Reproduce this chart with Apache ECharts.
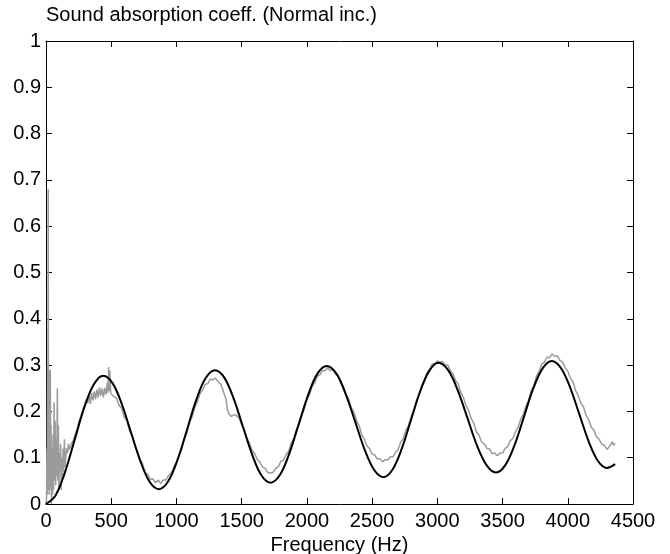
<!DOCTYPE html>
<html>
<head>
<meta charset="utf-8">
<script src="https://cdn.jsdelivr.net/npm/echarts@6/dist/echarts.min.js"></script>
<style>html,body{margin:0;padding:0;background:#fff;}#c{width:670px;height:554px;}</style>
</head>
<body>
<div id="c"></div>
<script>
// ---- data ----
const titleText = 'Sound absorption coeff. (Normal inc.)';
const xName = 'Frequency (Hz)';
const xTicks = [0, 500, 1000, 1500, 2000, 2500, 3000, 3500, 4000, 4500];
const yTicks = [0, 0.1, 0.2, 0.3, 0.4, 0.5, 0.6, 0.7, 0.8, 0.9, 1];

// theoretical curve (black)
const modelFreq = [0,73,146,220,293,366,439,510,581,652,723,794,865,937,1009,1081,1152,1224,1296,1367,1438,1509,1580,1651,1722,1794,1865,1937,2009,2080,2152,2225,2297,2370,2442,2515,2587,2657,2728,2798,2868,2939,3009,3083,3156,3230,3303,3377,3450,3521,3593,3664,3735,3807,3878,3948,4019,4089,4159,4230,4300,4363];
const modelAbs = [0,0.0186,0.069,0.139,0.208,0.258,0.277,0.261,0.216,0.1545,0.093,0.048,0.032,0.049,0.096,0.1605,0.225,0.272,0.289,0.273,0.228,0.1675,0.107,0.062,0.046,0.063,0.109,0.172,0.235,0.281,0.298,0.282,0.238,0.178,0.118,0.074,0.058,0.0745,0.120,0.1815,0.243,0.288,0.305,0.289,0.246,0.1865,0.127,0.084,0.068,0.084,0.128,0.1885,0.249,0.293,0.309,0.2935,0.251,0.1935,0.136,0.0935,0.078,0.086];

// measured curve (gray)
const measFreq = [0,4,7,9,12,14,17,19,22,24,27,30,33,36,39,42,46,50,54,58,62,66,70,74,78,82,87,91,95,99,103,108,112,117,121,126,131,136,141,146,151,158,165,172,
180,190,200,210,220,230,240,250,260,270,280,290,300,310,320,330,340,350,360,370,380,390,400,410,420,430,440,450,460,470,476,480,484,490,496,505,515,
540,560,580,600,620,640,660,680,700,720,740,760,780,800,820,840,860,880,900,920,940,960,980,1000,1020,1040,1060,1080,1100,1120,1140,1160,1180,1200,1220,1240,1260,1280,1300,1320,1340,1360,1380,1390,1400,1420,1440,1460,1480,1500,1520,1540,1560,1580,1600,1620,1640,1660,1680,1700,1720,1740,1760,1780,1800,1820,1840,1860,1880,1900,1920,1940,1960,1980,2000,2020,2040,2060,2080,2100,2120,2140,2160,2180,2200,2220,2240,2260,2280,2300,2320,2340,2360,2380,2400,2420,2440,2460,2480,2500,2520,2540,2560,2580,2600,2620,2640,2660,2680,2700,2720,2740,2760,2780,2800,2820,2840,2860,2880,2900,2920,2940,2960,2980,3000,3020,3040,3060,3080,3100,3120,3140,3160,3180,3200,3220,3240,3260,3280,3300,3320,3340,3360,3380,3400,3420,3440,3460,3480,3500,3520,3540,3560,3580,3600,3620,3640,3660,3680,3700,3720,3740,3760,3780,3800,3820,3840,3860,3880,3900,3920,3940,3960,3980,4000,4020,4040,4060,4080,4100,4120,4140,4160,4180,4200,4220,4240,4260,4280,4300,4320,4340,4350,4363];
const measAbs = [0,0.01,0.12,0.02,0.30,0.03,0.68,0.05,0.29,0.02,0.27,0.04,0.29,0.03,0.17,0.0,0.12,0.02,0.15,0.03,0.22,0.05,0.18,0.04,0.14,0.06,0.25,0.05,0.17,0.03,0.11,0.07,0.13,0.03,0.10,0.06,0.12,0.07,0.14,0.08,0.10,0.12,0.11,0.13,
0.118,0.127,0.124,0.138,0.140,0.156,0.162,0.176,0.175,0.192,0.195,0.21,0.212,0.226,0.218,0.236,0.216,0.24,0.224,0.243,0.226,0.247,0.23,0.252,0.234,0.249,0.23,0.251,0.236,0.262,0.24,0.296,0.244,0.288,0.24,0.236,0.233,
0.229,0.213,0.207,0.188,0.18,0.158,0.148,0.126,0.115,0.095,0.087,0.068,0.064,0.053,0.054,0.046,0.052,0.044,0.052,0.052,0.062,0.066,0.08,0.09,0.106,0.118,0.14,0.153,0.176,0.188,0.209,0.22,0.238,0.246,0.258,0.26,0.27,0.268,0.272,0.264,0.259,0.243,0.226,0.205,0.196,0.189,0.193,0.191,0.186,0.171,0.161,0.143,0.131,0.116,0.109,0.096,0.09,0.08,0.077,0.068,0.067,0.068,0.077,0.08,0.092,0.094,0.107,0.114,0.132,0.141,0.16,0.172,0.192,0.205,0.226,0.236,0.254,0.261,0.276,0.279,0.289,0.288,0.294,0.288,0.29,0.28,0.277,0.262,0.254,0.236,0.227,0.208,0.199,0.18,0.17,0.15,0.14,0.126,0.12,0.108,0.106,0.097,0.098,0.091,0.096,0.095,0.102,0.102,0.112,0.118,0.134,0.142,0.16,0.17,0.19,0.203,0.224,0.236,0.256,0.266,0.283,0.29,0.302,0.303,0.309,0.306,0.308,0.301,0.3,0.288,0.282,0.266,0.259,0.241,0.23,0.212,0.202,0.184,0.174,0.156,0.148,0.134,0.13,0.12,0.119,0.109,0.11,0.104,0.11,0.11,0.12,0.124,0.137,0.142,0.157,0.166,0.184,0.194,0.212,0.224,0.245,0.256,0.276,0.286,0.302,0.306,0.317,0.316,0.324,0.319,0.32,0.31,0.307,0.294,0.287,0.272,0.264,0.245,0.234,0.218,0.21,0.192,0.182,0.166,0.16,0.145,0.14,0.129,0.127,0.118,0.124,0.135,0.127,0.131];

function zip(a, b) {
  const n = Math.min(a.length, b.length), out = [];
  for (let i = 0; i < n; i++) out.push([a[i], b[i]]);
  return out;
}

const FONT = '"Liberation Sans", Arial, Helvetica, sans-serif';
const FS = 20;
const chart = echarts.init(document.getElementById('c'), null, {renderer: 'canvas'});

const axisLineStyle = {color: '#000', width: 1};
const xMin = xTicks[0], xMax = xTicks[xTicks.length - 1], xInt = xTicks[1] - xTicks[0];
const yMin = yTicks[0], yMax = yTicks[yTicks.length - 1], yInt = 0.1;

chart.setOption({
  animation: false,
  backgroundColor: '#fff',
  title: {
    text: titleText, left: 41, top: 0,
    textStyle: {fontFamily: FONT, fontSize: FS, fontWeight: 'normal', color: '#000'}
  },
  grid: {left: 46, right: 37, top: 41, bottom: 50, containLabel: false, outerBoundsMode: 'none'},
  xAxis: [{
    type: 'value', min: xMin, max: xMax, interval: xInt, position: 'bottom',
    name: xName, nameLocation: 'middle', nameGap: 26,
    nameTextStyle: {fontFamily: FONT, fontSize: FS, color: '#000'},
    axisLine: {show: true, onZero: false, lineStyle: axisLineStyle},
    axisTick: {show: true, inside: true, length: 6, lineStyle: axisLineStyle},
    axisLabel: {fontFamily: FONT, fontSize: FS, color: '#000', margin: 7,
      formatter: v => String(Math.round(v))},
    splitLine: {show: false}
  }, {
    type: 'value', min: xMin, max: xMax, interval: xInt, position: 'top',
    axisLine: {show: true, onZero: false, lineStyle: axisLineStyle},
    axisTick: {show: true, inside: true, length: 6, lineStyle: axisLineStyle},
    axisLabel: {show: false}, splitLine: {show: false}
  }],
  yAxis: [{
    type: 'value', min: yMin, max: yMax, interval: yInt, position: 'left',
    axisLine: {show: true, onZero: false, lineStyle: axisLineStyle},
    axisTick: {show: true, inside: true, length: 6, lineStyle: axisLineStyle},
    axisLabel: {fontFamily: FONT, fontSize: FS, color: '#000', margin: 5,
      formatter: v => String(Math.round(v * 10) / 10)},
    splitLine: {show: false}
  }, {
    type: 'value', min: yMin, max: yMax, interval: yInt, position: 'right',
    axisLine: {show: true, onZero: false, lineStyle: axisLineStyle},
    axisTick: {show: true, inside: true, length: 6, lineStyle: axisLineStyle},
    axisLabel: {show: false}, splitLine: {show: false}
  }],
  series: [{
    name: 'measured', type: 'line', xAxisIndex: 0, yAxisIndex: 0,
    data: zip(measFreq, measAbs), showSymbol: false, symbol: 'none',
    lineStyle: {color: '#9b9b9b', width: 1.5}, z: 2
  }, {
    name: 'model', type: 'line', xAxisIndex: 0, yAxisIndex: 0,
    data: zip(modelFreq, modelAbs), showSymbol: false, symbol: 'none', smooth: 0.35,
    lineStyle: {color: '#000', width: 2}, z: 3
  }]
});
</script>
</body>
</html>
